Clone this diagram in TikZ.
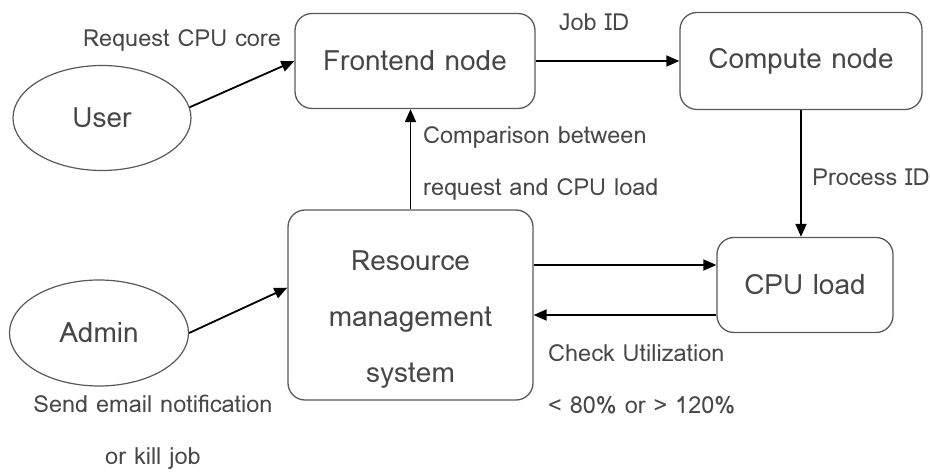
\documentclass[tikz,border=0pt]{standalone}
\usepackage{fontspec}
\setmainfont{Loma}
\usetikzlibrary{arrows.meta,shapes.geometric}

\begin{document}
\begin{tikzpicture}[x=1pt,y=-1pt,
    box/.style={draw=black!65,line width=1.3pt,rounded corners=17pt,
                text=black!72,font=\fontsize{28}{56}\selectfont,
                align=center,inner sep=0pt},
    boxtext/.style={text=black!72,font=\fontsize{28}{56}\selectfont,
                    align=center,inner sep=0pt},
    actor/.style={ellipse,draw=black!65,line width=1.2pt,text=black!72,
                  font=\fontsize{28}{32}\selectfont,inner sep=0pt},
    lbl/.style={text=black!72,font=\fontsize{23.5}{52}\selectfont,inner sep=0pt},
    link/.style={line width=1.8pt,-{Triangle[length=13pt,width=11pt]}}]

    \useasboundingbox (0,0) rectangle (930,473);

    % actors
    \node[actor,minimum width=178,minimum height=105] (user)  at (102,118) {User};
    \node[actor,minimum width=179,minimum height=106] (admin) at (99,333)  {Admin};

    % boxes
    \node[box,minimum width=240,minimum height=95]  (front) at (415,61)    {Frontend node};
    \node[box,minimum width=242,minimum height=97]  (comp)  at (801,61)    {Compute node};
    \node[box,minimum width=176,minimum height=95]  (cpu)   at (805,285)   {CPU load};
    \node[box,minimum width=245,minimum height=190] (rms)   at (410.5,305) {};
    \node[boxtext] (rmstext) at ([yshift=-15pt]rms.center) {Resource\\management\\system};

    \coordinate (cpuin)  at ([yshift=20pt]cpu.west);
    \coordinate (cpuout) at ([yshift=-30pt]cpu.west);

    % labels
    \node[lbl] (lreq)  at (182,40)  {Request CPU core};
    \node[lbl] (ljob)  at (594,22)  {Job ID};
    \node[lbl] (lproc) at (871,177) {Process ID};
    \node[lbl,anchor=west,align=left] (lcmp) at (423,163) {Comparison between\\request and CPU load};
    \node[lbl,anchor=west,align=left] (lchk) at (548,379) {Check Utilization\\< 80\% or > 120\%};
    \node[lbl,align=center] (lmail) at (153,432) {Send email notification\\or kill job};

    % connectors
    \path[link] (user.7) edge (front.west)
                (front) edge (comp)
                (comp.south) edge (comp.south |- cpu.north)
                (rms.north) edge (rms.north |- front.south)
                (admin.east) edge (rms.172)
                (rms.east |- cpuin) edge (cpuin)
                (cpuout) edge (rms.east |- cpuout);

\end{tikzpicture}
\end{document}
